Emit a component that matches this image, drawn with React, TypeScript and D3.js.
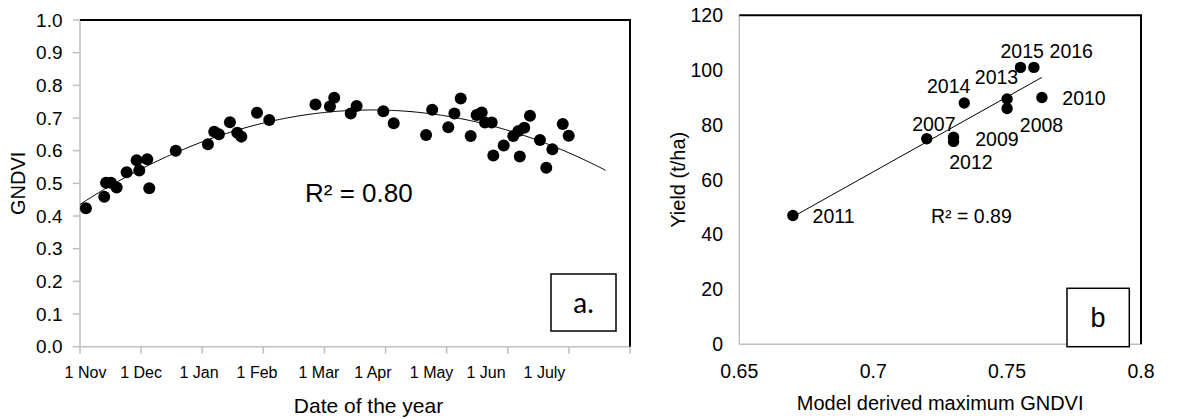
import React from 'react';
import * as d3 from 'd3';

// ---------- Panel a: GNDVI through the season ----------
// day = days since 1 November
const seasonDays = [2.9, 11.9, 12.8, 15.2, 18.0, 22.9, 27.8, 29.1, 33.0, 34.0, 47.0, 62.8, 65.9, 68.2, 73.6, 77.2, 79.2, 86.9, 92.9, 115.6, 122.7, 124.8, 132.9, 135.8, 148.9, 154.0, 169.9, 172.9, 180.8, 183.8, 186.9, 191.8, 194.7, 197.2, 198.8, 202.1, 202.9, 208.0, 212.7, 215.2, 218.1, 215.9, 220.9, 225.8, 228.9, 231.9, 237.0, 239.9];
const seasonGndvi = [0.424, 0.459, 0.502, 0.502, 0.487, 0.534, 0.571, 0.539, 0.574, 0.485, 0.600, 0.620, 0.658, 0.650, 0.687, 0.655, 0.643, 0.716, 0.694, 0.741, 0.735, 0.762, 0.714, 0.737, 0.721, 0.684, 0.648, 0.725, 0.672, 0.714, 0.760, 0.645, 0.709, 0.717, 0.686, 0.686, 0.585, 0.616, 0.645, 0.660, 0.670, 0.582, 0.707, 0.633, 0.548, 0.604, 0.682, 0.646];
const monthLabels = ['1 Nov', '1 Dec', '1 Jan', '1 Feb', '1 Mar', '1 Apr', '1 May', '1 Jun', '1 July'];
const monthLabelDays = [2.7, 30, 58.4, 86.9, 117.3, 143.8, 172.6, 199.3, 228];
const dayTicks = [0, 30, 60, 90, 120, 150, 180, 210, 240, 270];
const gndviTicks = [0, 0.1, 0.2, 0.3, 0.4, 0.5, 0.6, 0.7, 0.8, 0.9, 1.0];
const trendDayRange = [0, 258];
const r2a = 'R² = 0.80';

// ---------- Panel b: yield vs model max GNDVI ----------
const years = ['2007', '2008', '2009', '2010', '2011', '2012', '2013', '2014', '2015', '2016'];
const maxGndvi = [0.720, 0.750, 0.730, 0.763, 0.670, 0.730, 0.750, 0.734, 0.755, 0.760];
const yieldValues = [75, 86, 75.5, 90, 47, 74, 89.5, 88, 101, 101];
const yieldTicks = [0, 20, 40, 60, 80, 100, 120];
const maxGndviTicks = [0.65, 0.7, 0.75, 0.8];
const r2b = 'R² = 0.89';
// label placement offsets (px) relative to each point: [dx to text start, dy to text middle]
const labelOffsets = [[-14.6, -14.3], [12.7, 16.7], [21.7, 2.3], [20.4, 0.7], [19.7, 0.7], [-4.3, 20.6], [-32.3, -21.3], [-37.3, -16.7], [-20, -16.6], [15.7, -16.6]];

const FONT = 'Liberation Sans, Arial, sans-serif';
const AXIS_GRAY = '#bfbfbf';

function quadFit(xs: number[], ys: number[]) {
  // least squares y = c0 + c1 x + c2 x^2
  const S = [0, 0, 0, 0, 0];
  const T = [0, 0, 0];
  xs.forEach((x, i) => {
    let p = 1;
    for (let k = 0; k < 5; k++) { S[k] += p; p *= x; }
    T[0] += ys[i]; T[1] += ys[i] * x; T[2] += ys[i] * x * x;
  });
  const A = [
    [S[0], S[1], S[2], T[0]],
    [S[1], S[2], S[3], T[1]],
    [S[2], S[3], S[4], T[2]],
  ];
  for (let c = 0; c < 3; c++) {
    let piv = c;
    for (let r = c + 1; r < 3; r++) if (Math.abs(A[r][c]) > Math.abs(A[piv][c])) piv = r;
    [A[c], A[piv]] = [A[piv], A[c]];
    for (let r = 0; r < 3; r++) {
      if (r === c) continue;
      const f = A[r][c] / A[c][c];
      for (let k = c; k < 4; k++) A[r][k] -= f * A[c][k];
    }
  }
  return [A[0][3] / A[0][0], A[1][3] / A[1][1], A[2][3] / A[2][2]];
}

function linFit(xs: number[], ys: number[]) {
  const mx = d3.mean(xs) as number;
  const my = d3.mean(ys) as number;
  let sxy = 0, sxx = 0;
  xs.forEach((x, i) => { sxy += (x - mx) * (ys[i] - my); sxx += (x - mx) * (x - mx); });
  const b = sxy / sxx;
  return [my - b * mx, b];
}

function PanelA() {
  const left = 80, right = 630, top = 20, bottom = 346.7;
  const x = d3.scaleLinear().domain([0, 270]).range([left, right]);
  const y = d3.scaleLinear().domain([0, 1]).range([bottom, top]);
  const [c0, c1, c2] = quadFit(seasonDays, seasonGndvi);
  const curveDays = d3.range(trendDayRange[0], trendDayRange[1] + 0.01, 1);
  const line = d3.line<number>().x(d => x(d)).y(d => y(c0 + c1 * d + c2 * d * d));
  return (
    <g fontFamily={FONT} fill="#000">
      <line x1={left} x2={left} y1={top} y2={bottom} stroke={AXIS_GRAY} strokeWidth={1.5} />
      <line x1={left} x2={right} y1={bottom} y2={bottom} stroke={AXIS_GRAY} strokeWidth={1.5} />
      <line x1={left} x2={right + 1} y1={top} y2={top} stroke="#000" strokeWidth={2} />
      <line x1={right} x2={right} y1={top} y2={bottom} stroke="#000" strokeWidth={2} />
      {gndviTicks.map(t => (
        <g key={'yt' + t}>
          <line x1={left - 7} x2={left} y1={y(t)} y2={y(t)} stroke={AXIS_GRAY} strokeWidth={1.5} />
          <text x={62.5} y={y(t)} dy="0.35em" textAnchor="end" fontSize={19}>{t.toFixed(1)}</text>
        </g>
      ))}
      {dayTicks.map(t => (
        <line key={'xt' + t} x1={x(t)} x2={x(t)} y1={bottom} y2={bottom + 7} stroke={AXIS_GRAY} strokeWidth={1.5} />
      ))}
      {monthLabels.map((m, i) => (
        <text key={m} x={x(monthLabelDays[i])} y={372.7} dy="0.35em" textAnchor="middle" fontSize={16}>{m}</text>
      ))}
      <text x={368.5} y={406} dy="0.35em" textAnchor="middle" fontSize={21}>Date of the year</text>
      <text transform={`translate(18,${(top + bottom) / 2}) rotate(-90)`} dy="0.35em" textAnchor="middle" fontSize={20}>GNDVI</text>
      <path d={line(curveDays) || ''} fill="none" stroke="#000" strokeWidth={1} />
      {seasonDays.map((d, i) => (
        <circle key={'p' + i} cx={x(d)} cy={y(seasonGndvi[i])} r={6} fill="#000" />
      ))}
      <text x={305} y={193} dy="0.35em" fontSize={26}>{r2a}</text>
      <rect x={551} y={274} width={65} height={57} fill="#fff" stroke="#000" strokeWidth={1.5} />
      <text x={583.5} y={303} dy="0.35em" textAnchor="middle" fontSize={28} fontFamily="Lato, Open Sans, sans-serif">a.</text>
    </g>
  );
}

function PanelB() {
  const left = 739.3, right = 1141, top = 15.3, bottom = 344.3;
  const x = d3.scaleLinear().domain([0.65, 0.8]).range([left, right]);
  const y = d3.scaleLinear().domain([0, 120]).range([bottom, top]);
  const [a, b] = linFit(maxGndvi, yieldValues);
  const [xmin, xmax] = d3.extent(maxGndvi) as [number, number];
  return (
    <g fontFamily={FONT} fill="#000">
      <line x1={left} x2={left} y1={top} y2={bottom} stroke={AXIS_GRAY} strokeWidth={1.5} />
      <line x1={left} x2={right} y1={bottom} y2={bottom} stroke={AXIS_GRAY} strokeWidth={1.5} />
      <line x1={left} x2={right + 1} y1={top} y2={top} stroke="#000" strokeWidth={2} />
      <line x1={right} x2={right} y1={top} y2={bottom} stroke="#000" strokeWidth={2} />
      {yieldTicks.map(t => (
        <text key={'yt' + t} x={723} y={y(t)} dy="0.35em" textAnchor="end" fontSize={19.5}>{t}</text>
      ))}
      {maxGndviTicks.map(t => (
        <text key={'xt' + t} x={x(t)} y={371} dy="0.35em" textAnchor="middle" fontSize={19.5}>{String(t)}</text>
      ))}
      <text x={(left + right) / 2} y={403} dy="0.35em" textAnchor="middle" fontSize={20}>Model derived maximum GNDVI</text>
      <text transform={`translate(678,${(top + bottom) / 2}) rotate(-90)`} dy="0.35em" textAnchor="middle" fontSize={20}>Yield (t/ha)</text>
      <line x1={x(xmin)} y1={y(a + b * xmin)} x2={x(xmax)} y2={y(a + b * xmax)} stroke="#000" strokeWidth={1} />
      {maxGndvi.map((g, i) => (
        <circle key={'p' + i} cx={x(g)} cy={y(yieldValues[i])} r={5.7} fill="#000" />
      ))}
      {years.map((yr, i) => (
        <text key={yr} x={x(maxGndvi[i]) + labelOffsets[i][0]} y={y(yieldValues[i]) + labelOffsets[i][1]} dy="0.35em" fontSize={19.5}>{yr}</text>
      ))}
      <text x={931} y={216} dy="0.35em" fontSize={19.5}>{r2b}</text>
      <rect x={1067} y={288.3} width={62.3} height={58.4} fill="#fff" stroke="#000" strokeWidth={1.5} />
      <text x={1098} y={318} dy="0.35em" textAnchor="middle" fontSize={27}>b</text>
    </g>
  );
}

export default function App() {
  return (
    <svg width={1182} height={419} style={{ position: 'absolute', left: 0, top: 0, background: '#fff' }}>
      <rect width={1182} height={419} fill="#fff" />
      <PanelA />
      <PanelB />
    </svg>
  );
}
